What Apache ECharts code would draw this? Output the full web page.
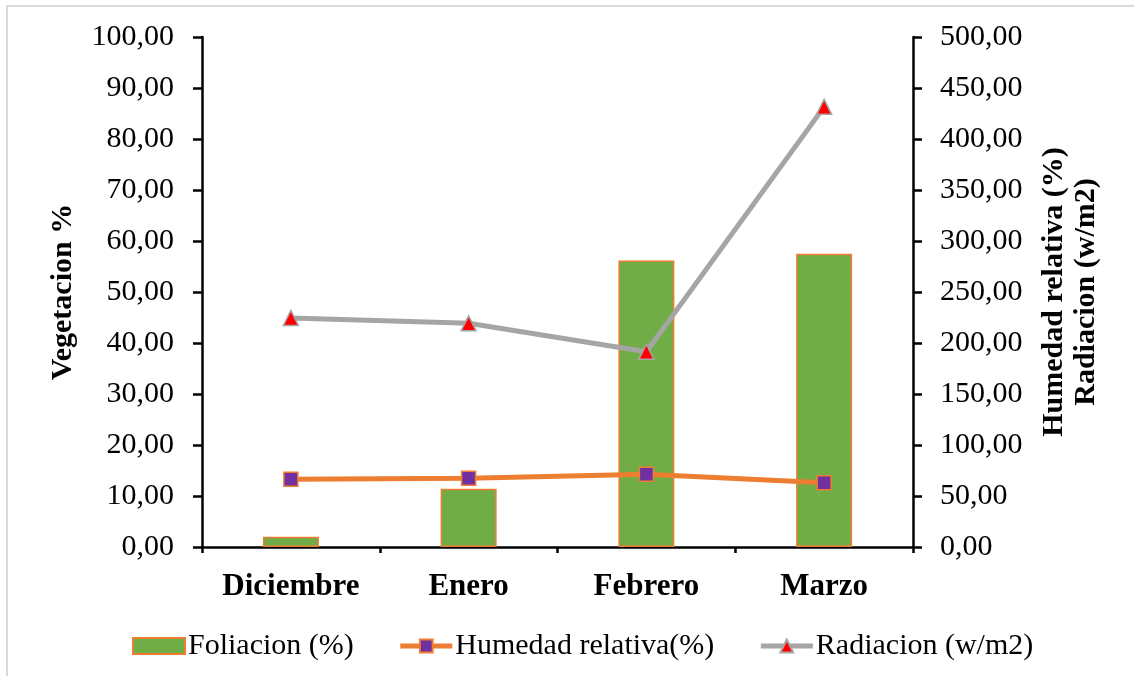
<!DOCTYPE html>
<html>
<head>
<meta charset="utf-8">
<script src="https://cdn.jsdelivr.net/npm/echarts@6/dist/echarts.min.js"></script>
<style>
  html, body { margin: 0; padding: 0; background: #ffffff; }
  #chart { width: 1134px; height: 676px; }
</style>
</head>
<body>
<div id="chart"></div>
<script>
// Monthly vegetation foliation with relative humidity and radiation
const categories = ['Diciembre', 'Enero', 'Febrero', 'Marzo'];
const foliacion = [2.0, 11.4, 56.2, 57.5];      // left axis, %
const humedad = [66.4, 67.3, 71.3, 63.0];       // right axis, %
const radiacion = [224.5, 219.3, 191.5, 431.5]; // right axis, w/m2

const serif = "'Liberation Serif', 'Times New Roman', serif";
const fmt = v => v.toFixed(2).replace('.', ',');

const chart = echarts.init(document.getElementById('chart'), null, { renderer: 'canvas' });

const axisLine = { show: true, lineStyle: { color: '#000', width: 2.5 } };
const axisTick = { show: true, inside: false, length: 9, lineStyle: { color: '#000', width: 2.5 } };

chart.setOption({
  backgroundColor: '#ffffff',
  animation: false,
  graphic: [{
    type: 'rect',
    shape: { x: 7, y: 6, width: 1200, height: 700 },
    style: { fill: 'none', stroke: '#d9d9d9', lineWidth: 2 },
    silent: true
  }],
  grid: { left: 202, right: 221, top: 37, bottom: 129, containLabel: false },
  legend: {
    left: 127,
    top: 626,
    itemWidth: 52,
    itemHeight: 16,
    itemGap: 44,
    textStyle: { fontFamily: serif, fontSize: 30, color: '#000', padding: [0, 0, 0, -2] },
    data: [
      { name: 'Foliacion (%)', icon: 'rect' },
      { name: 'Humedad relativa(%)', lineStyle: { width: 5 } },
      { name: 'Radiacion (w/m2)', lineStyle: { width: 5 } }
    ]
  },
  xAxis: {
    type: 'category',
    data: categories,
    axisLine: axisLine,
    axisTick: { show: true, interval: 0, length: 6, alignWithLabel: false, lineStyle: { color: '#000', width: 2.5 } },
    axisLabel: { interval: 0, fontFamily: serif, fontSize: 31, fontWeight: 'bold', color: '#000', margin: 24 },
    splitLine: { show: false }
  },
  yAxis: [
    {
      type: 'value',
      min: 0, max: 100, interval: 10,
      name: 'Vegetacion %',
      nameLocation: 'middle',
      nameRotate: 90,
      nameGap: 124,
      nameTextStyle: { fontFamily: serif, fontSize: 30, fontWeight: 'bold', color: '#000' },
      axisLine: axisLine,
      axisTick: axisTick,
      axisLabel: { fontFamily: serif, fontSize: 30, color: '#000', margin: 28, formatter: fmt },
      splitLine: { show: false }
    },
    {
      type: 'value',
      position: 'right',
      min: 0, max: 500, interval: 50,
      name: 'Humedad relativa (%)\nRadiacion (w/m2)',
      nameLocation: 'middle',
      nameRotate: 90,
      nameGap: 125,
      nameTextStyle: { fontFamily: serif, fontSize: 30, fontWeight: 'bold', color: '#000', lineHeight: 32, align: 'center' },
      axisLine: axisLine,
      axisTick: axisTick,
      axisLabel: { fontFamily: serif, fontSize: 30, color: '#000', margin: 27, formatter: fmt },
      splitLine: { show: false }
    }
  ],
  series: [
    {
      name: 'Foliacion (%)',
      type: 'bar',
      yAxisIndex: 0,
      data: foliacion,
      barWidth: 56,
      itemStyle: { color: '#70AD47', borderColor: '#ED7D31', borderWidth: 1.5 }
    },
    {
      name: 'Humedad relativa(%)',
      type: 'line',
      yAxisIndex: 1,
      data: humedad,
      symbol: 'rect',
      symbolSize: 14,
      showAllSymbol: true,
      lineStyle: { color: '#ED7D31', width: 5 },
      itemStyle: { color: '#7030A0', borderColor: '#ED7D31', borderWidth: 1.5 },
      z: 3
    },
    {
      name: 'Radiacion (w/m2)',
      type: 'line',
      yAxisIndex: 1,
      data: radiacion,
      symbol: 'triangle',
      symbolSize: 15,
      showAllSymbol: true,
      lineStyle: { color: '#A5A5A5', width: 5 },
      itemStyle: { color: '#FF0000', borderColor: '#A5A5A5', borderWidth: 1.5 },
      z: 3
    }
  ]
});
</script>
</body>
</html>
